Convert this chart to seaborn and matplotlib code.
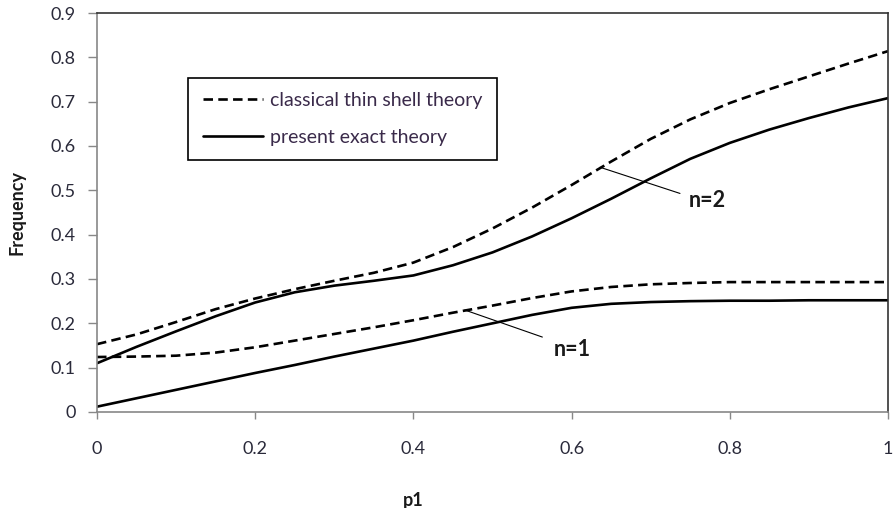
import numpy as np
import pandas as pd
import matplotlib
matplotlib.use("Agg")
import matplotlib.pyplot as plt
import seaborn as sns

# values (every 0.05 along p1)
p1 = [0.0, 0.05, 0.1, 0.15, 0.2, 0.25, 0.3, 0.35, 0.4, 0.45, 0.5,
      0.55, 0.6, 0.65, 0.7, 0.75, 0.8, 0.85, 0.9, 0.95, 1.0]
classical_n2 = [0.153, 0.175, 0.203, 0.232, 0.256, 0.277, 0.296, 0.314, 0.337, 0.372, 0.414,
                0.461, 0.512, 0.565, 0.616, 0.660, 0.697, 0.728, 0.757, 0.786, 0.814]
exact_n2 = [0.110, 0.147, 0.182, 0.216, 0.247, 0.270, 0.285, 0.296, 0.308, 0.331, 0.360,
            0.396, 0.437, 0.481, 0.527, 0.571, 0.607, 0.637, 0.663, 0.687, 0.708]
classical_n1 = [0.124, 0.125, 0.127, 0.134, 0.146, 0.161, 0.176, 0.191, 0.207, 0.224, 0.240,
                0.257, 0.272, 0.282, 0.288, 0.291, 0.293, 0.293, 0.293, 0.293, 0.293]
exact_n1 = [0.012, 0.031, 0.050, 0.069, 0.088, 0.106, 0.125, 0.143, 0.161, 0.181, 0.200,
            0.219, 0.235, 0.244, 0.248, 0.250, 0.251, 0.251, 0.252, 0.252, 0.252]

xtick_vals = [0, 0.2, 0.4, 0.6, 0.8, 1.0]
xtick_text = ["0", "0.2", "0.4", "0.6", "0.8", "1"]
ytick_vals = [0, 0.1, 0.2, 0.3, 0.4, 0.5, 0.6, 0.7, 0.8, 0.9]
ytick_text = ["0", "0.1", "0.2", "0.3", "0.4", "0.5", "0.6", "0.7", "0.8", "0.9"]

sns.set_style("white")
plt.rcParams["font.family"] = ["Lato", "DejaVu Sans"]

fig = plt.figure(figsize=(8.95, 5.08), dpi=100)
ax = fig.add_axes([0.1084, 0.189, 0.8838, 0.7854])

dash = (3.6, 2.0)
lw = 1.9
sns.lineplot(x=p1, y=classical_n2, ax=ax, color="black", lw=lw,
             label="classical thin shell theory")
ax.lines[-1].set_dashes(dash)
sns.lineplot(x=p1, y=exact_n2, ax=ax, color="black", lw=lw, label="present exact theory")
sns.lineplot(x=p1, y=classical_n1, ax=ax, color="black", lw=lw, legend=False)
ax.lines[-1].set_dashes(dash)
sns.lineplot(x=p1, y=exact_n1, ax=ax, color="black", lw=lw, legend=False)

# leader lines and labels
ax.plot([0.636, 0.737], [0.552, 0.493], color="black", lw=0.8)
ax.text(0.748, 0.477, "n=2", fontsize=15.5, fontweight="bold", va="center", color="#1a1a1a")
ax.plot([0.465, 0.563], [0.230, 0.169], color="black", lw=0.8)
ax.text(0.578, 0.140, "n=1", fontsize=15.5, fontweight="bold", va="center", color="#1a1a1a")

ax.set_xlim(0, 1)
ax.set_ylim(0, 0.9)
ax.set_xticks(xtick_vals)
ax.set_xticklabels(xtick_text)
ax.set_yticks(ytick_vals)
ax.set_yticklabels(ytick_text)
ax.tick_params(axis="x", direction="out", length=5, width=1, color="#888888",
               pad=16, labelsize=13, labelcolor="#2a2a3a")
ax.tick_params(axis="y", direction="out", length=6.5, width=1, color="#888888",
               pad=9, labelsize=13, labelcolor="#2a2a3a")
ax.tick_params(bottom=True, left=True)

for side in ["left", "bottom"]:
    ax.spines[side].set_color("#888888")
    ax.spines[side].set_linewidth(1.2)
for side in ["top", "right"]:
    ax.spines[side].set_color("#333333")
    ax.spines[side].set_linewidth(1.2)

ax.set_xlabel("p1", fontsize=13, fontweight="bold", color="#1a1a1a")
ax.xaxis.set_label_coords(0.4, -0.2)
ax.set_ylabel("Frequency", fontsize=13, fontweight="bold", color="#1a1a1a")
ax.yaxis.set_label_coords(-0.09, 0.5)

leg = ax.legend(loc="upper left", bbox_to_anchor=(0.115, 0.838), borderaxespad=0,
                fontsize=14, handlelength=3.1, handletextpad=0.36, labelspacing=1.0,
                borderpad=0.75, frameon=True, fancybox=False, framealpha=1,
                edgecolor="black", labelcolor="#3a2a4a")
leg.get_frame().set_linewidth(1.2)

fig.savefig("out.png", dpi=100)
